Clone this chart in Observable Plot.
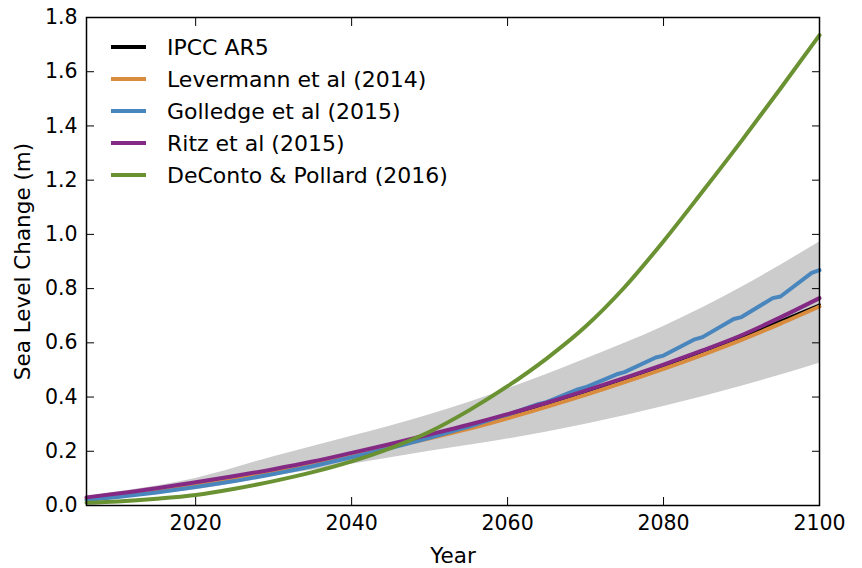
<!DOCTYPE html>
<html>
<head>
<meta charset="utf-8">
<script src="https://cdn.jsdelivr.net/npm/d3@7"></script>
<script src="https://cdn.jsdelivr.net/npm/@observablehq/plot@0.6"></script>
<style>
  html, body { margin: 0; padding: 0; background: white; }
  #wrap { position: relative; width: 862px; height: 568px; font-family: "DejaVu Sans", sans-serif; }
  #legend { position: absolute; left: 0; top: 31px; }
  .row { display: flex; align-items: center; height: 32px; }
  .sw { margin-left: 111px; width: 35px; height: 3.5px; }
  .lab { margin-left: 21px; font-size: 22px; color: black; white-space: nowrap; }
</style>
</head>
<body>
<div id="wrap"><div id="legend"></div></div>
<script>
// ---- data ----
const seriesNames = ["IPCC AR5", "Levermann et al (2014)", "Golledge et al (2015)", "Ritz et al (2015)", "DeConto & Pollard (2016)"];
const seriesColors = ["#000000", "#d98c3e", "#4a86be", "#842a85", "#6a9232"];

const years = [2006, 2010, 2015, 2020, 2025, 2030, 2035, 2040, 2045, 2050, 2055, 2060, 2065, 2070, 2075, 2080, 2085, 2090, 2095, 2100];
const ipcc       = [0.025, 0.037, 0.055, 0.077, 0.100, 0.126, 0.155, 0.186, 0.219, 0.254, 0.292, 0.332, 0.375, 0.420, 0.467, 0.516, 0.568, 0.622, 0.680, 0.740];
const levermann  = [0.025, 0.036, 0.053, 0.074, 0.097, 0.122, 0.151, 0.182, 0.215, 0.248, 0.283, 0.322, 0.364, 0.408, 0.455, 0.504, 0.556, 0.611, 0.671, 0.734];
const ritz       = [0.030, 0.044, 0.064, 0.086, 0.109, 0.134, 0.162, 0.194, 0.227, 0.262, 0.298, 0.337, 0.379, 0.424, 0.471, 0.520, 0.572, 0.628, 0.694, 0.765];
const deconto    = [0.010, 0.015, 0.025, 0.039, 0.062, 0.090, 0.123, 0.163, 0.212, 0.272, 0.350, 0.440, 0.542, 0.660, 0.805, 0.975, 1.158, 1.345, 1.538, 1.735];

const golledgeYears = [2006, 2010, 2015, 2020, 2025, 2030, 2035, 2040, 2045, 2050, 2054, 2055, 2059, 2060, 2064, 2065, 2069, 2070, 2074, 2075, 2079, 2080, 2084, 2085, 2089, 2090, 2094, 2095, 2099, 2100];
const golledge      = [0.020, 0.031, 0.048, 0.068, 0.090, 0.116, 0.145, 0.178, 0.212, 0.250, 0.283, 0.290, 0.328, 0.335, 0.375, 0.381, 0.428, 0.436, 0.484, 0.492, 0.546, 0.553, 0.613, 0.621, 0.688, 0.695, 0.765, 0.771, 0.858, 0.868];

const bandYears = [2006, 2010, 2020, 2030, 2040, 2050, 2060, 2070, 2080, 2090, 2100];
const bandLow   = [0.020, 0.030, 0.058, 0.108, 0.152, 0.200, 0.245, 0.300, 0.365, 0.440, 0.525];
const bandHigh  = [0.033, 0.050, 0.100, 0.180, 0.255, 0.335, 0.430, 0.540, 0.660, 0.805, 0.972];

const xTicks = [2020, 2040, 2060, 2080, 2100];
const yTicks = [0, 0.2, 0.4, 0.6, 0.8, 1.0, 1.2, 1.4, 1.6, 1.8];

// ---- build tables ----
const toRows = (xs, vs) => xs.map((x, i) => ({year: x, v: vs[i]}));
const band = bandYears.map((x, i) => ({year: x, lo: bandLow[i], hi: bandHigh[i]}));
const lines = [
  toRows(years, ipcc),
  toRows(years, levermann),
  toRows(golledgeYears, golledge),
  toRows(years, ritz),
  toRows(years, deconto)
];
const widths = [3, 4, 4, 4, 4];
const curves = ["monotone-x", "monotone-x", "linear", "monotone-x", "monotone-x"];

const fmtY = d => d.toFixed(1);
const fmtX = d => String(d);

const chart = Plot.plot({
  width: 862,
  height: 568,
  marginLeft: 86,
  marginRight: 43,
  marginTop: 17,
  marginBottom: 63,
  style: {fontFamily: "DejaVu Sans", fontSize: "20.5px", color: "black", background: "white"},
  x: {domain: [2006, 2100]},
  y: {domain: [0, 1.8]},
  marks: [
    Plot.areaY(band, {x: "year", y1: "lo", y2: "hi", fill: "#cccccc", curve: "monotone-x"}),
    ...lines.map((rows, i) => Plot.lineY(rows, {x: "year", y: "v", stroke: seriesColors[i], strokeWidth: widths[i], curve: curves[i]})),
    Plot.frame({stroke: "black", strokeWidth: 1.5}),
    // tick labels
    Plot.axisX(xTicks, {anchor: "bottom", tickSize: 0, tickPadding: 10, tickFormat: fmtX, label: null}),
    Plot.axisY(yTicks, {anchor: "left", tickSize: 0, tickPadding: 9, tickFormat: fmtY, label: null}),
    // axis titles
    Plot.axisX([], {anchor: "bottom", tickSize: 0, fontSize: 21.5, label: "Year", labelAnchor: "center", labelArrow: "none", labelOffset: 57}),
    Plot.axisY([], {anchor: "left", tickSize: 0, fontSize: 21.5, label: "Sea Level Change (m)", labelAnchor: "center", labelArrow: "none", labelOffset: 72}),
    // inward ticks on all four sides
    Plot.axisX(xTicks, {anchor: "bottom", tickSize: 8, dy: -8, fill: "none", label: null}),
    Plot.axisX(xTicks, {anchor: "top", tickSize: 8, dy: 8, fill: "none", label: null}),
    Plot.axisY(yTicks, {anchor: "left", tickSize: 8, dx: 8, fill: "none", label: null}),
    Plot.axisY(yTicks, {anchor: "right", tickSize: 8, dx: -8, fill: "none", label: null})
  ]
});

const wrap = document.getElementById("wrap");
wrap.insertBefore(chart, wrap.firstChild);

const legend = document.getElementById("legend");
seriesNames.forEach((name, i) => {
  const row = document.createElement("div");
  row.className = "row";
  const sw = document.createElement("div");
  sw.className = "sw";
  sw.style.background = seriesColors[i];
  const lab = document.createElement("div");
  lab.className = "lab";
  lab.textContent = name;
  row.appendChild(sw);
  row.appendChild(lab);
  legend.appendChild(row);
});
</script>
</body>
</html>
